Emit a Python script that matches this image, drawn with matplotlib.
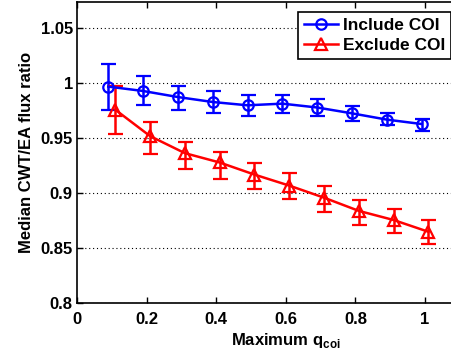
import matplotlib
matplotlib.use("Agg")
import matplotlib.pyplot as plt
import numpy as np

plt.rcParams['font.family'] = ['Liberation Sans', 'DejaVu Sans']
plt.rcParams['font.weight'] = 'bold'
plt.rcParams['mathtext.fontset'] = 'custom'
plt.rcParams['mathtext.bf'] = 'Liberation Sans:bold'
plt.rcParams['mathtext.rm'] = 'Liberation Sans:bold'

x_include = [0.09, 0.19, 0.29, 0.39, 0.49, 0.59, 0.69, 0.79, 0.89, 0.99]
y_include = [0.997, 0.993, 0.9875, 0.983, 0.980, 0.9815, 0.978, 0.9727, 0.967, 0.963]
top_include = [1.0175, 1.007, 0.998, 0.993, 0.989, 0.989, 0.9855, 0.979, 0.973, 0.968]
bot_include = [0.976, 0.980, 0.976, 0.973, 0.970, 0.973, 0.970, 0.966, 0.962, 0.957]

x_exclude = [0.11, 0.21, 0.31, 0.41, 0.51, 0.61, 0.71, 0.81, 0.91, 1.01]
y_exclude = [0.976, 0.952, 0.9365, 0.928, 0.917, 0.907, 0.896, 0.884, 0.8757, 0.865]
top_exclude = [0.9975, 0.9648, 0.9466, 0.938, 0.9275, 0.918, 0.9066, 0.894, 0.8857, 0.8755]
bot_exclude = [0.9536, 0.9355, 0.9218, 0.913, 0.9036, 0.8945, 0.8833, 0.8712, 0.8643, 0.8536]

xticks = [0, 0.2, 0.4, 0.6, 0.8, 1]
xticklabels = ['0', '0.2', '0.4', '0.6', '0.8', '1']
yticks = [0.8, 0.85, 0.9, 0.95, 1.0, 1.05]
yticklabels = ['0.8', '0.85', '0.9', '0.95', '1', '1.05']

W, H = 452, 353
fig = plt.figure(figsize=(W / 100, H / 100), dpi=100)
# axes extends beyond the right edge of the figure (cropped like the reference)
x0_px, unit_px = 77, 348
bottom_px, top_px = 303.3, 1.5
ax = fig.add_axes([x0_px / W, (H - bottom_px) / H, 1.2 * unit_px / W, (bottom_px - top_px) / H])

def draw(x, y, top, bot, color, marker, ms, label):
    y = np.array(y); top = np.array(top); bot = np.array(bot)
    err = [y - bot, top - y]
    c = ax.errorbar(x, y, yerr=err, color=color, lw=1.8, elinewidth=1.8,
                    capsize=5.4, capthick=1.8, marker=marker, ms=ms,
                    mfc='none', mec=color, mew=1.6, label=label)
    return c

c1 = draw(x_include, y_include, top_include, bot_include, 'blue', 'o', 7.5, 'Include COI')
c2 = draw(x_exclude, y_exclude, top_exclude, bot_exclude, 'red', '^', 8.5, 'Exclude COI')

ax.set_xlim(0, 1.2)
ax.set_ylim(0.8, 0.8 + (bottom_px - top_px) / 1100)
ax.set_xticks(xticks)
ax.set_xticklabels(xticklabels, fontsize=12, fontweight='bold')
ax.set_yticks(yticks)
ax.set_yticklabels(yticklabels, fontsize=12, fontweight='bold')
ax.tick_params(direction='in', top=True, right=True, length=4, width=1)
ax.tick_params(axis='x', pad=6)
ax.tick_params(axis='y', pad=3)
ax.yaxis.grid(True, linestyle=(0, (1, 2.5)), color='black', lw=0.8)
for s in ax.spines.values():
    s.set_linewidth(1.2)

ax.set_xlabel(r'Maximum q$_{\mathbf{coi}}$', fontsize=12, fontweight='bold', labelpad=3)
ax.set_ylabel('Median CWT/EA flux ratio', fontsize=12, fontweight='bold', labelpad=5)

leg = ax.legend(handles=[c1.lines[0], c2.lines[0]], labels=['Include COI', 'Exclude COI'],
                loc='upper right', bbox_to_anchor=(451 / W, 1 - 11.5 / H),
                bbox_transform=fig.transFigure, borderaxespad=0,
                fontsize=12.5, frameon=True, fancybox=False, framealpha=1,
                edgecolor='black', borderpad=0.35, labelspacing=0.3,
                handlelength=2.0, handletextpad=0.25)
leg.get_frame().set_linewidth(1.2)
for t in leg.get_texts():
    t.set_fontweight('bold')

fig.savefig('out.png', dpi=100)
